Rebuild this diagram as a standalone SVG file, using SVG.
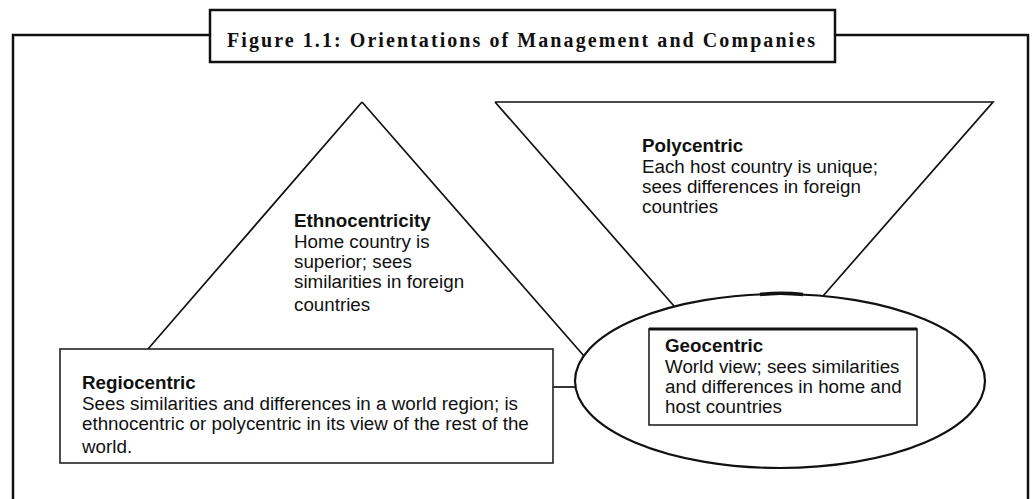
<svg xmlns="http://www.w3.org/2000/svg" width="1033" height="499" viewBox="0 0 1033 499">
<style>
.frame{fill:none;stroke:#111;stroke-width:2.5}
.ln{fill:none;stroke:#111;stroke-width:1.7}
.box{fill:#fff;stroke:#222;stroke-width:1.6}
.ell{fill:#fff;stroke:#111;stroke-width:2.2}
.t{font-family:"Liberation Sans",Arial,sans-serif;font-size:18.8px;fill:#111}
.b{font-weight:bold}
.title{font-family:"Liberation Serif","Times New Roman",serif;font-size:20px;font-weight:bold;fill:#111}
</style>
<rect width="1033" height="499" fill="#fff"/>
<g id="frame">
<path class="frame" d="M13 505 V35 H210 M835 35 H1028 V505"/>
</g>
<g id="title">
<rect x="210" y="10" width="625" height="52" fill="#fff" stroke="#111" stroke-width="2.5"/>
<text class="title" x="227" y="47" textLength="588" lengthAdjust="spacing">Figure 1.1: Orientations of Management and Companies</text>
</g>
<g id="connectors">
<path class="ln" d="M362 102 L148 349 M362 102 L584 356"/>
<path class="ln" d="M495 102 H993 L823 296 M495 102 L674 306"/>
<path class="ln" d="M553 387 H577"/>
</g>
<g id="ethnocentricity">
<text class="t"><tspan class="b" x="294" y="227">Ethnocentricity</tspan><tspan x="294" y="248">Home country is</tspan><tspan x="294" y="268">superior; sees</tspan><tspan x="294" y="288">similarities in foreign</tspan><tspan x="294" y="311">countries</tspan></text>
</g>
<g id="polycentric">
<text class="t"><tspan class="b" x="642" y="152">Polycentric</tspan><tspan x="642" y="173">Each host country is unique;</tspan><tspan x="642" y="193">sees differences in foreign</tspan><tspan x="642" y="213">countries</tspan></text>
</g>
<g id="regiocentric">
<rect class="box" x="60" y="349" width="493" height="114"/>
<text class="t"><tspan class="b" x="82" y="389">Regiocentric</tspan><tspan x="82" y="410">Sees similarities and differences in a world region; is</tspan><tspan x="82" y="430">ethnocentric or polycentric in its view of the rest of the</tspan><tspan x="82" y="453">world.</tspan></text>
</g>
<g id="geocentric">
<ellipse class="ell" cx="780" cy="381" rx="205" ry="87"/>
<path d="M760 294.5 Q781 292 803 294.5" fill="none" stroke="#111" stroke-width="3.5"/>
<rect class="box" x="649" y="329" width="268" height="96"/>
<path d="M649 329 H917" stroke="#111" stroke-width="3"/>
<text class="t"><tspan class="b" x="665" y="352">Geocentric</tspan><tspan x="665" y="373">World view; sees similarities</tspan><tspan x="665" y="393">and differences in home and</tspan><tspan x="665" y="413">host countries</tspan></text>
</g>
</svg>
